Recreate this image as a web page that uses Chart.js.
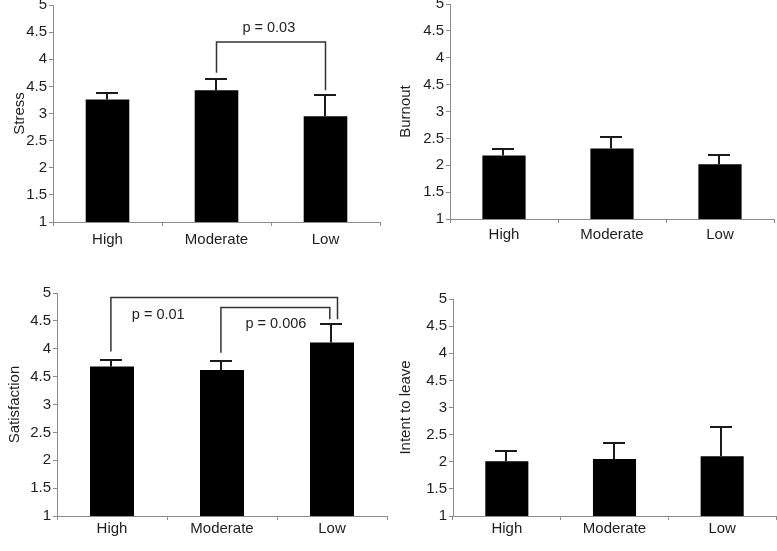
<!DOCTYPE html>
<html>
<head>
<meta charset="utf-8">
<script src="https://cdn.jsdelivr.net/npm/chart.js@4.4.1/dist/chart.umd.min.js"></script>
<style>
  body { margin: 0; background: #fff; width: 777px; height: 551px; overflow: hidden; position: relative; }
  canvas { position: absolute; }
</style>
</head>
<body>
<canvas id="stressChart" width="390" height="270" style="left:0px;top:-10px"></canvas>
<canvas id="burnoutChart" width="387" height="270" style="left:390px;top:-10px"></canvas>
<canvas id="satisfactionChart" width="390" height="286" style="left:0px;top:265px"></canvas>
<canvas id="intentChart" width="387" height="286" style="left:390px;top:265px"></canvas>
<script>
const categories = ['High', 'Moderate', 'Low'];
// tick labels as printed in the figure (3.5 is labelled "4.5" in the original)
const yTickLabels = ['1', '1.5', '2', '2.5', '3', '4.5', '4', '4.5', '5'];

const stressMean = [3.26, 3.43, 2.95];
const stressSE = [0.12, 0.20, 0.39];
const burnoutMean = [2.18, 2.31, 2.02];
const burnoutSE = [0.12, 0.22, 0.18];
const satisfactionMean = [3.68, 3.62, 4.11];
const satisfactionSE = [0.11, 0.16, 0.33];
const intentMean = [2.01, 2.05, 2.10];
const intentSE = [0.19, 0.30, 0.54];

const stressP = ['p = 0.03'];
const satisfactionP = ['p = 0.01', 'p = 0.006'];

const FONT = '"Liberation Sans", Arial, sans-serif';
const AXIS = '#8c8c8c';
const TEXT = '#1e1e1e';

// error bars, significance brackets and p labels
const errorBars = {
  id: 'errorBars',
  afterDatasetsDraw(chart, args, opts) {
    const ctx = chart.ctx;
    const x = chart.scales.x;
    const y = chart.scales.y;
    const ds = chart.data.datasets[0];
    const meta = chart.getDatasetMeta(0);
    ctx.save();
    ctx.strokeStyle = '#1a1a1a';
    ctx.lineWidth = 2;
    meta.data.forEach((bar, i) => {
      const top = Math.round(y.getPixelForValue(ds.data[i] + ds.errors[i]));
      const cx = Math.round(bar.x) - 1;
      ctx.beginPath();
      ctx.moveTo(cx, bar.y);
      ctx.lineTo(cx, top);
      ctx.moveTo(cx - 11, top);
      ctx.lineTo(cx + 11, top);
      ctx.stroke();
    });

    ctx.strokeStyle = '#333';
    ctx.lineWidth = 1.5;
    (opts.brackets || []).forEach(b => {
      const x1 = x.getPixelForValue(b.from);
      const x2 = x.getPixelForValue(b.to);
      const yt = y.getPixelForValue(b.top);
      ctx.beginPath();
      ctx.moveTo(x1, y.getPixelForValue(b.fromLeg));
      ctx.lineTo(x1, yt);
      ctx.lineTo(x2, yt);
      ctx.lineTo(x2, y.getPixelForValue(b.toLeg));
      ctx.stroke();
    });

    ctx.fillStyle = TEXT;
    ctx.font = '14.5px ' + FONT;
    ctx.textAlign = 'center';
    ctx.textBaseline = 'middle';
    (opts.labels || []).forEach(l => {
      ctx.fillText(l.text, x.getPixelForValue(l.x), y.getPixelForValue(l.y));
    });
    ctx.restore();
  }
};

function makePanel(id, title, means, errors, area, extras) {
  const canvas = document.getElementById(id);
  const w = canvas.width, h = canvas.height;
  new Chart(canvas, {
    type: 'bar',
    data: {
      labels: categories,
      datasets: [{
        data: means,
        errors: errors,
        backgroundColor: '#000',
        borderWidth: 0,
        barPercentage: 0.4,
        categoryPercentage: 1.0
      }]
    },
    options: {
      responsive: false,
      devicePixelRatio: 1,
      animation: false,
      layout: { padding: { left: 0, top: area.t, right: w - area.r, bottom: 0 } },
      plugins: {
        legend: { display: false },
        tooltip: { enabled: false },
        errorBars: extras
      },
      scales: {
        x: {
          afterFit: s => { s.height = h - area.b; },
          border: { display: true, color: AXIS, width: 1 },
          grid: { display: true, drawOnChartArea: false, drawTicks: true, tickLength: 4, color: AXIS },
          ticks: { color: TEXT, padding: area.xp, font: { family: FONT, size: 15 } }
        },
        y: {
          min: 1,
          max: 5,
          afterFit: s => { s.width = area.l; },
          border: { display: true, color: AXIS, width: 1 },
          grid: { display: true, drawOnChartArea: false, drawTicks: true, tickLength: 4, color: AXIS },
          ticks: {
            stepSize: 0.5,
            color: TEXT,
            padding: 2,
            font: { family: FONT, size: 15 },
            callback: (v, i) => yTickLabels[i]
          },
          title: {
            display: true,
            text: title,
            color: TEXT,
            font: { family: FONT, size: 15 },
            padding: { top: area.tp, bottom: 0 }
          }
        }
      }
    },
    plugins: [errorBars]
  });
}

makePanel('stressChart', 'Stress', stressMean, stressSE,
  { l: 53, t: 15, r: 380, b: 232, tp: 11, xp: 5 },
  {
    brackets: [{ from: 1, to: 2, top: 4.32, fromLeg: 3.75, toLeg: 3.43 }],
    labels: [{ text: stressP[0], x: 1.48, y: 4.58 }]
  });

makePanel('burnoutChart', 'Burnout', burnoutMean, burnoutSE,
  { l: 60, t: 14, r: 384, b: 229, tp: 7, xp: 3 }, {});

makePanel('satisfactionChart', 'Satisfaction', satisfactionMean, satisfactionSE,
  { l: 57, t: 28, r: 387, b: 251, tp: 6, xp: 0 },
  {
    brackets: [
      { from: -0.01, to: 2.05, top: 4.92, fromLeg: 3.95, toLeg: 4.53 },
      { from: 0.99, to: 1.98, top: 4.74, fromLeg: 3.93, toLeg: 4.53 }
    ],
    labels: [
      { text: satisfactionP[0], x: 0.42, y: 4.61 },
      { text: satisfactionP[1], x: 1.49, y: 4.45 }
    ]
  });

makePanel('intentChart', 'Intent to leave', intentMean, intentSE,
  { l: 63, t: 34, r: 386, b: 251, tp: 7, xp: 0 }, {});
</script>
</body>
</html>
